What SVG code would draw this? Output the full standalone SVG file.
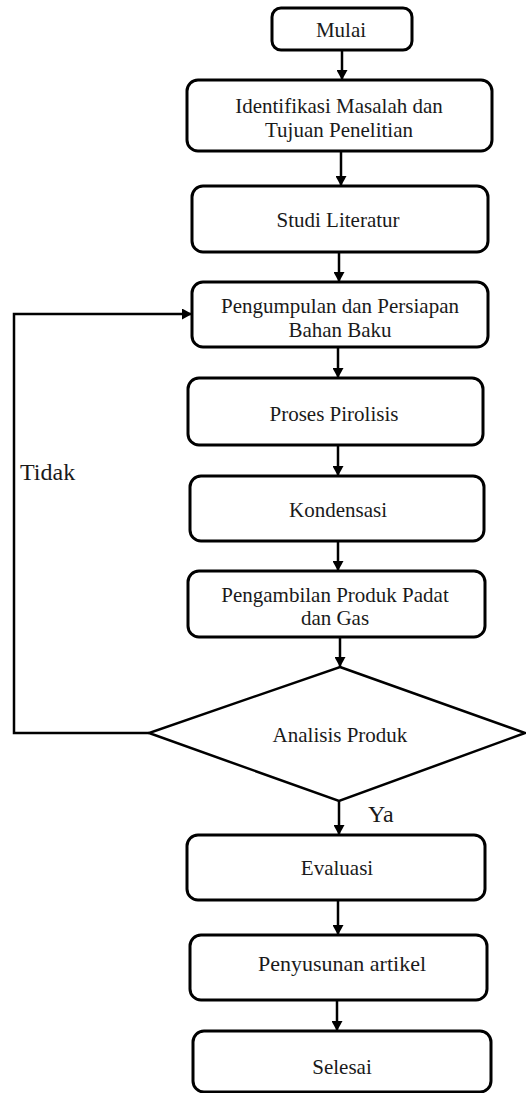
<svg xmlns="http://www.w3.org/2000/svg" width="526" height="1093" viewBox="0 0 526 1093">
  <style>
    .box { fill: #ffffff; stroke: #000000; stroke-width: 3; }
    .dia { fill: #ffffff; stroke: #000000; stroke-width: 2.5; }
    .lbl { font-size: 21px; fill: #1a1a1a; text-anchor: middle; }
    .big { font-size: 24px; fill: #1a1a1a; }
    .con { fill: none; stroke: #000000; stroke-width: 2.5; }
  </style>
  <defs>
    <marker id="ah" markerWidth="11" markerHeight="11" refX="10" refY="5.5" orient="auto" markerUnits="userSpaceOnUse">
      <path d="M0,0 L10,5.5 L0,11 z" fill="#000000"/>
    </marker>
  </defs>
  <rect width="526" height="1093" fill="#ffffff"/>

  <g font-family="Liberation Serif, Times New Roman, DejaVu Serif, serif">
  <g id="connectors">
    <line class="con" x1="342" y1="50" x2="342" y2="80" marker-end="url(#ah)"/>
    <line class="con" x1="341" y1="151" x2="341" y2="186" marker-end="url(#ah)"/>
    <line class="con" x1="339" y1="252" x2="339" y2="282" marker-end="url(#ah)"/>
    <line class="con" x1="338" y1="347" x2="338" y2="378" marker-end="url(#ah)"/>
    <line class="con" x1="338" y1="445" x2="338" y2="476" marker-end="url(#ah)"/>
    <line class="con" x1="338" y1="541" x2="338" y2="571" marker-end="url(#ah)"/>
    <line class="con" x1="340" y1="637" x2="340" y2="667" marker-end="url(#ah)"/>
    <line class="con" x1="339" y1="801" x2="339" y2="835" marker-end="url(#ah)"/>
    <line class="con" x1="338" y1="900" x2="338" y2="935" marker-end="url(#ah)"/>
    <line class="con" x1="337" y1="1000" x2="337" y2="1031" marker-end="url(#ah)"/>
    <path class="con" d="M149,733 H14 V314 H192" marker-end="url(#ah)"/>
    <text class="big" x="20" y="480">Tidak</text>
    <text class="big" x="368" y="822">Ya</text>
  </g>

  <g id="mulai">
    <rect class="box" x="272" y="8" width="140" height="42" rx="9"/>
    <text class="lbl" x="341" y="37">Mulai</text>
  </g>
  <g id="identifikasi">
    <rect class="box" x="187" y="80" width="305" height="71" rx="11"/>
    <text class="lbl" x="339" y="113">Identifikasi Masalah dan</text>
    <text class="lbl" x="339" y="137">Tujuan Penelitian</text>
  </g>
  <g id="studi">
    <rect class="box" x="192" y="186" width="296" height="66" rx="11"/>
    <text class="lbl" x="338" y="227">Studi Literatur</text>
  </g>
  <g id="pengumpulan">
    <rect class="box" x="192" y="282" width="296" height="65" rx="11"/>
    <text class="lbl" x="340" y="313">Pengumpulan dan Persiapan</text>
    <text class="lbl" x="340" y="337">Bahan Baku</text>
  </g>
  <g id="pirolisis">
    <rect class="box" x="188" y="378" width="295" height="67" rx="11"/>
    <text class="lbl" x="334" y="421">Proses Pirolisis</text>
  </g>
  <g id="kondensasi">
    <rect class="box" x="190" y="476" width="294" height="65" rx="11"/>
    <text class="lbl" x="338" y="517">Kondensasi</text>
  </g>
  <g id="pengambilan">
    <rect class="box" x="188" y="571" width="297" height="66" rx="11"/>
    <text class="lbl" x="335" y="602">Pengambilan Produk Padat</text>
    <text class="lbl" x="335" y="625">dan Gas</text>
  </g>
  <g id="analisis">
    <polygon class="dia" points="340,667 525,733 339,801 149,733"/>
    <text class="lbl" x="340" y="742">Analisis Produk</text>
  </g>
  <g id="evaluasi">
    <rect class="box" x="187" y="835" width="298" height="65" rx="11"/>
    <text class="lbl" x="337" y="875">Evaluasi</text>
  </g>
  <g id="penyusunan">
    <rect class="box" x="190" y="935" width="297" height="65" rx="11"/>
    <text class="lbl" x="342" y="971" style="font-size:22px">Penyusunan artikel</text>
  </g>
  <g id="selesai">
    <rect class="box" x="193" y="1031" width="298" height="61" rx="11"/>
    <text class="lbl" x="342" y="1074">Selesai</text>
  </g>
  </g>
</svg>
